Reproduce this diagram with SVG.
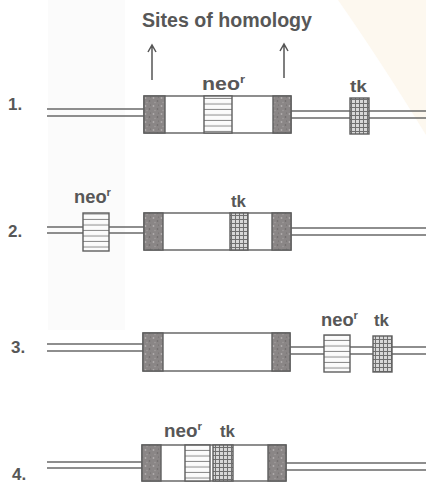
<svg xmlns="http://www.w3.org/2000/svg" width="426" height="483" viewBox="0 0 426 483">
<defs>
<style>
text{font-family:"Liberation Sans",Arial,sans-serif;font-weight:bold;fill:#575757}
.dna{stroke:#6a6a6a;stroke-width:1.4;fill:none}
.box{stroke:#5e5e5e;stroke-width:1.4}
.white{fill:#ffffff}
.hom{fill:url(#homPat)}
.neo{fill:url(#neoPat)}
.tk{fill:url(#tkPat)}
.arrow{stroke:#555;stroke-width:1.5;fill:none}
.lab{font-size:18px}
.sup{font-size:11px}
.tkl{font-size:17px}
.num{font-size:17px}
</style>
<pattern id="homPat" width="8" height="8" patternUnits="userSpaceOnUse">
<rect width="8" height="8" fill="#8a8686"/>
<circle cx="1.5" cy="2" r="0.9" fill="#b0acac"/>
<circle cx="5.5" cy="5" r="0.8" fill="#6a6666"/>
<circle cx="3" cy="6.5" r="0.7" fill="#a4a0a0"/>
<circle cx="6.5" cy="1" r="0.6" fill="#706c6c"/>
</pattern>
<pattern id="neoPat" width="10" height="5.5" patternUnits="userSpaceOnUse">
<rect width="10" height="5.5" fill="#fbfbfb"/>
<line x1="0" y1="5" x2="10" y2="5" stroke="#8a8a8a" stroke-width="1"/>
</pattern>
<pattern id="tkPat" width="4" height="4" patternUnits="userSpaceOnUse">
<rect width="4" height="4" fill="#d8d8d8"/>
<line x1="0" y1="3.5" x2="4" y2="3.5" stroke="#707070" stroke-width="1"/>
<line x1="3.5" y1="0" x2="3.5" y2="4" stroke="#707070" stroke-width="1"/>
</pattern>
</defs>
<rect width="426" height="483" fill="#ffffff"/>
<rect x="48" y="0" width="77" height="330" fill="#fbfbfb"/>
<path d="M338,0 Q380,60 426,135 L426,0 Z" fill="#fdf8ef"/>

<g id="title">
<text x="142" y="27" font-size="20" textLength="170" lengthAdjust="spacingAndGlyphs">Sites of homology</text>
<path class="arrow" d="M152,80 V46 M148,52 L152,45 L156,52"/>
<path class="arrow" d="M284,78 V45 M280,51 L284,44 L288,51"/>
</g>

<g id="connectors">
<path class="dna" d="M47,109 H144 M47,116 H144 M291,111 H426 M291,118 H426"/>
<path class="dna" d="M47,227 H144 M47,233 H144 M291,228 H426 M291,235 H426"/>
<path class="dna" d="M47,344 H143 M47,351 H143 M290,347 H426 M290,354 H426"/>
<path class="dna" d="M47,462 H142 M47,468 H142 M286,463 H426 M286,470 H426"/>
</g>

<g id="row1">
<text class="num" x="8" y="110">1.</text>
<rect class="box white" x="144" y="96" width="147" height="37"/>
<rect class="box hom" x="144" y="96" width="21" height="37"/>
<rect class="box neo" x="204" y="96" width="28" height="37"/>
<rect class="box hom" x="273" y="96" width="18" height="37"/>
<rect class="box tk" x="350" y="98" width="19" height="36"/>
<text class="lab" x="202" y="90" textLength="43" lengthAdjust="spacingAndGlyphs">neo<tspan class="sup" dy="-7">r</tspan></text>
<text class="tkl" x="350" y="92" textLength="17" lengthAdjust="spacingAndGlyphs">tk</text>
</g>

<g id="row2">
<text class="num" x="8" y="237">2.</text>
<rect class="box neo" x="83" y="213" width="26" height="38"/>
<rect class="box white" x="144" y="213" width="147" height="37"/>
<rect class="box hom" x="144" y="213" width="19" height="37"/>
<rect class="box tk" x="230" y="213" width="18" height="37"/>
<rect class="box hom" x="272" y="213" width="19" height="37"/>
<text class="lab" x="74" y="203" textLength="37" lengthAdjust="spacingAndGlyphs" font-size="17">neo<tspan class="sup" dy="-7">r</tspan></text>
<text class="tkl" x="231" y="207" textLength="15" lengthAdjust="spacingAndGlyphs">tk</text>
</g>

<g id="row3">
<text class="num" x="11" y="353">3.</text>
<rect class="box white" x="143" y="333" width="147" height="38"/>
<rect class="box hom" x="143" y="333" width="20" height="38"/>
<rect class="box hom" x="272" y="333" width="18" height="38"/>
<rect class="box neo" x="324" y="335" width="26" height="37"/>
<rect class="box tk" x="373" y="336" width="19" height="36"/>
<text class="lab" x="321" y="326" textLength="37" lengthAdjust="spacingAndGlyphs" font-size="17">neo<tspan class="sup" dy="-7">r</tspan></text>
<text class="tkl" x="374" y="326" textLength="15" lengthAdjust="spacingAndGlyphs">tk</text>
</g>

<g id="row4">
<text class="num" x="12" y="480">4.</text>
<rect class="box white" x="142" y="445" width="144" height="36"/>
<rect class="box hom" x="142" y="445" width="19" height="36"/>
<rect class="box neo" x="185" y="445" width="25" height="36"/>
<rect class="box tk" x="213" y="445" width="20" height="36"/>
<rect class="box hom" x="268" y="445" width="18" height="36"/>
<text class="lab" x="164" y="437" textLength="38" lengthAdjust="spacingAndGlyphs" font-size="17">neo<tspan class="sup" dy="-7">r</tspan></text>
<text class="tkl" x="220" y="437" textLength="15" lengthAdjust="spacingAndGlyphs">tk</text>
</g>
</svg>
